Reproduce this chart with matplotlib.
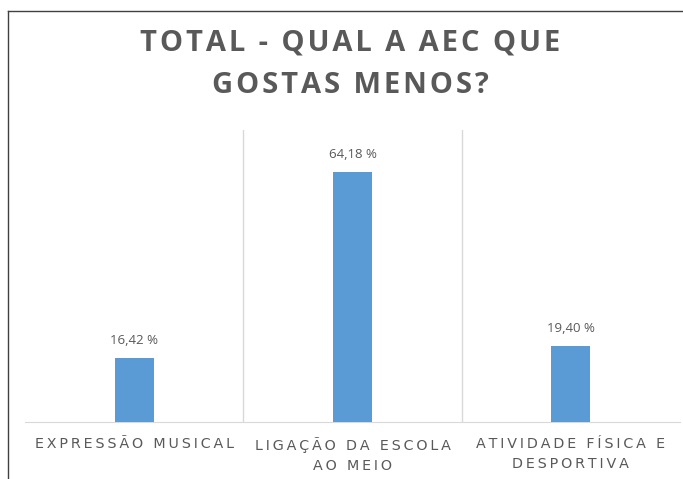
import matplotlib.pyplot as plt
from matplotlib.lines import Line2D

categorias = ["EXPRESSÃO MUSICAL", "LIGAÇÃO DA ESCOLA\nAO MEIO", "ATIVIDADE FÍSICA E\nDESPORTIVA"]
valores = [16.42, 64.18, 19.40]
titulo = "TOTAL - QUAL A AEC QUE\nGOSTAS MENOS?"

cinza = "#595959"
azul = "#5B9BD5"


def espacar(texto, sep):
    # simula o espaçamento entre letras do Excel
    return "\n".join(sep.join(linha) for linha in texto.split("\n"))


fig = plt.figure(figsize=(6.83, 4.79), dpi=100)
ax = fig.add_axes([25 / 683, 57 / 479, 655 / 683, 292 / 479])

x = list(range(len(valores)))
ax.bar(x, valores, width=0.18, color=azul, zorder=3)
ax.set_xlim(-0.5, len(valores) - 0.5)
ax.set_ylim(0, 75)

# separadores entre categorias
for s in [i + 0.5 for i in x[:-1]]:
    ax.axvline(s, color="#D9D9D9", lw=1, zorder=1)

for side in ["top", "left", "right"]:
    ax.spines[side].set_visible(False)
ax.spines["bottom"].set_color("#D9D9D9")
ax.set_yticks([])
ax.set_xticks(x)
ax.set_xticklabels([])
ax.tick_params(axis="x", length=0)

for xi, v in zip(x, valores):
    ax.annotate(f"{v:.2f} %".replace(".", ","), (xi, v), xytext=(0, 8),
                textcoords="offset points", ha="center", va="bottom",
                fontsize=9.5, color=cinza, family="Open Sans")

for xi, c in zip(x, categorias):
    ax.annotate(espacar(c, "\u2009"), (xi, 0), xytext=(0, -11), textcoords="offset points",
                ha="center", va="top", fontsize=10.3, color=cinza,
                family=["DejaVu Sans"], linespacing=1.55)

fig.text(350 / 683, 1 - 64 / 479, espacar(titulo, "\u200a"), ha="center", va="center",
         fontsize=21, fontweight="bold", color=cinza,
         family=["Open Sans", "DejaVu Sans"], linespacing=1.6)

# moldura do gráfico (cortada à direita e em baixo)
fig.add_artist(Line2D([8 / 683, 1], [1 - 11 / 479, 1 - 11 / 479],
                      transform=fig.transFigure, color="#404040", lw=1))
fig.add_artist(Line2D([8 / 683, 8 / 683], [0, 1 - 11 / 479],
                      transform=fig.transFigure, color="#404040", lw=1))

fig.savefig("out.png", dpi=100)
